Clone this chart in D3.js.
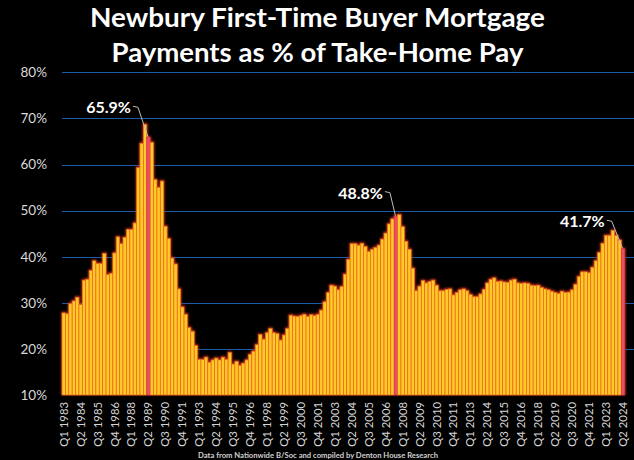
<!DOCTYPE html>
<html>
<head>
<meta charset="utf-8">
<script src="https://cdn.jsdelivr.net/npm/d3@7"></script>
<style>
  html, body { margin: 0; padding: 0; background: #000; }
  svg { display: block; }
</style>
</head>
<body>
<svg id="chart" width="634" height="460"></svg>
<script>
// mortgage payment as % of take-home pay, quarterly Q1 1983 .. Q2 2024
const payPct = [
  27.8, 27.6, 29.8, 30.4, 31.2, 29.6, 34.9, 35.1, 37.0, 39.1,
  38.5, 38.5, 40.7, 36.1, 36.4, 40.8, 44.3, 42.8, 44.2, 45.9,
  45.9, 47.3, 59.3, 64.6, 68.7, 65.9, 64.8, 56.7, 55.0, 56.4,
  46.6, 43.9, 39.7, 38.4, 33.0, 29.1, 27.5, 24.6, 23.8, 20.7,
  17.7, 17.7, 18.2, 17.1, 17.6, 18.0, 17.6, 18.2, 17.7, 19.2,
  16.7, 17.3, 16.4, 16.9, 17.6, 18.8, 19.5, 20.9, 23.1, 22.1,
  23.5, 24.4, 23.5, 23.3, 21.9, 23.0, 24.4, 27.3, 27.1, 27.0,
  27.2, 27.5, 27.0, 27.4, 27.2, 27.5, 28.4, 30.2, 32.2, 33.8,
  33.6, 32.8, 33.5, 36.2, 39.4, 42.8, 42.8, 42.5, 42.9, 42.2,
  41.1, 41.6, 42.0, 42.5, 43.8, 45.1, 47.1, 48.2, 48.8, 49.1,
  46.5, 43.3, 41.6, 37.5, 32.6, 33.6, 34.8, 34.3, 34.6, 34.9,
  33.8, 32.6, 32.6, 32.9, 33.0, 31.7, 32.2, 32.8, 33.0, 32.6,
  31.8, 31.3, 31.3, 31.9, 32.9, 34.3, 35.1, 35.4, 34.6, 34.7,
  34.5, 34.4, 34.9, 35.1, 34.3, 34.2, 34.3, 34.2, 33.8, 33.7,
  33.8, 33.3, 33.0, 32.8, 32.5, 32.2, 32.0, 32.5, 32.2, 32.3,
  32.8, 34.0, 35.7, 36.7, 36.7, 36.5, 37.7, 39.1, 40.9, 42.9,
  44.6, 44.6, 45.7, 44.6, 43.6, 41.7
];

const startYear = 1983;
const quarters = [];
for (let yr = startYear; yr <= 2024; yr++) {
  for (let q = 1; q <= 4; q++) {
    if (yr === 2024 && q > 2) break;
    quarters.push("Q" + q + " " + yr);
  }
}

const yTicks = [10, 20, 30, 40, 50, 60, 70, 80];
const shownQuarters = quarters.filter((d, i) => i % 5 === 0);
const highlighted = ["Q2 1989", "Q3 2007", "Q2 2024"];

const titleLines = ["Newbury First-Time Buyer Mortgage", "Payments as % of Take-Home Pay"];
const sourceNote = "Data from Nationwide B/Soc and compiled by Denton House Research";

const svg = d3.select("#chart");
const plotLeft = 62, plotRight = 624.7, plotTop = 72.3, plotBottom = 395;

svg.append("rect").attr("width", 634).attr("height", 460).attr("fill", "#000");

const x = d3.scaleBand()
  .domain(quarters)
  .range([plotLeft, plotRight])
  .paddingInner(0)
  .paddingOuter(0);

const y = d3.scaleLinear()
  .domain([10, 80])
  .range([plotBottom, plotTop]);

// title
svg.append("g").selectAll("text")
  .data(titleLines)
  .enter()
  .append("text")
    .attr("x", 317.5)
    .attr("y", (d, i) => 27 + i * 35)
    .attr("text-anchor", "middle")
    .attr("textLength", (d, i) => i === 0 ? 455 : 412)
    .attr("lengthAdjust", "spacingAndGlyphs")
    .attr("fill", "#fff")
    .style("font-family", "Lato, 'Open Sans', sans-serif")
    .style("font-weight", "bold")
    .style("font-size", "27.5px")
    .text(d => d);

// gridlines
svg.append("g").selectAll("line")
  .data(yTicks.filter(t => t > 10))
  .enter()
  .append("line")
    .attr("x1", plotLeft)
    .attr("x2", 634)
    .attr("y1", d => Math.round(y(d)) + 0.5)
    .attr("y2", d => Math.round(y(d)) + 0.5)
    .attr("stroke", "#1f5ba8")
    .attr("stroke-width", 1.2);

// y axis labels
const yAxis = d3.axisLeft(y)
  .tickValues(yTicks)
  .tickSize(0)
  .tickPadding(0)
  .tickFormat(d => d + "%");

svg.append("g")
  .attr("transform", "translate(47,0)")
  .call(yAxis)
  .call(g => g.select(".domain").remove())
  .selectAll("text")
    .attr("fill", "#d9d9d9")
    .style("font-family", "Lato, sans-serif")
    .style("font-size", "13.5px");

// glow behind the bars
const defs = svg.append("defs");
defs.append("filter")
  .attr("id", "glow")
  .attr("x", "-5%").attr("y", "-5%")
  .attr("width", "110%").attr("height", "110%")
  .append("feGaussianBlur")
  .attr("stdDeviation", 1.3);

const isHi = q => highlighted.indexOf(q) > -1;

svg.append("g")
  .attr("filter", "url(#glow)")
  .selectAll("rect")
  .data(payPct)
  .enter()
  .append("rect")
    .attr("x", (d, i) => x(quarters[i]) - 0.8)
    .attr("y", d => y(d) - 1.2)
    .attr("width", x.bandwidth() + 1.6)
    .attr("height", d => plotBottom - y(d) + 1.2)
    .attr("fill", "#c8321c");

svg.append("g")
  .selectAll("rect")
  .data(payPct)
  .enter()
  .append("rect")
    .attr("x", (d, i) => x(quarters[i]))
    .attr("y", d => y(d))
    .attr("width", x.bandwidth())
    .attr("height", d => plotBottom - y(d))
    .attr("fill", (d, i) => isHi(quarters[i]) ? "#ee4b68" : "#ffc928")
    .attr("stroke", (d, i) => isHi(quarters[i]) ? "#d8384f" : "#e8671f")
    .attr("stroke-width", 0.7);

// x axis labels
const xAxis = d3.axisBottom(x)
  .tickValues(shownQuarters)
  .tickSize(0)
  .tickPadding(0);

svg.append("g")
  .attr("transform", "translate(0," + plotBottom + ")")
  .call(xAxis)
  .call(g => g.select(".domain").remove())
  .selectAll("text")
    .attr("fill", "#d4d4d4")
    .attr("text-anchor", "end")
    .attr("transform", "rotate(-90)")
    .attr("x", -7)
    .attr("y", 0)
    .attr("dy", "0.35em")
    .style("font-family", "Lato, sans-serif")
    .style("font-size", "11.3px");

// callouts on highlighted bars
const calloutOffsets = [[-17.5, -24], [-13, -17.5], [-18.3, -21.6]];
const callouts = svg.append("g");
highlighted.forEach(function(q, k) {
  const i = quarters.indexOf(q);
  const v = payPct[i];
  const bx = x(q) + x.bandwidth() / 2;
  const by = y(v);
  const tx = bx + calloutOffsets[k][0];
  const ty = by + calloutOffsets[k][1];

  callouts.append("path")
    .attr("d", "M" + (tx + 2) + "," + (ty - 7) +
               "L" + (tx + 7) + "," + (ty - 6) +
               "L" + (bx - 0.5) + "," + (by - 0.5))
    .attr("fill", "none")
    .attr("stroke", "#bdbdbd")
    .attr("stroke-width", 1);

  callouts.append("text")
    .attr("x", tx)
    .attr("y", ty)
    .attr("text-anchor", "end")
    .attr("fill", "#fff")
    .style("font-family", "Lato, sans-serif")
    .style("font-weight", "bold")
    .style("font-size", "16px")
    .text(d3.format(".1f")(v) + "%");
});

// source note at the bottom edge
svg.append("text")
  .attr("x", 318)
  .attr("y", 457.5)
  .attr("text-anchor", "middle")
  .attr("textLength", 240)
  .attr("lengthAdjust", "spacingAndGlyphs")
  .attr("fill", "#d0d0d0")
  .style("font-family", "Lato, sans-serif")
  .style("font-weight", "bold")
  .style("font-size", "8px")
  .text(sourceNote);
</script>
</body>
</html>
